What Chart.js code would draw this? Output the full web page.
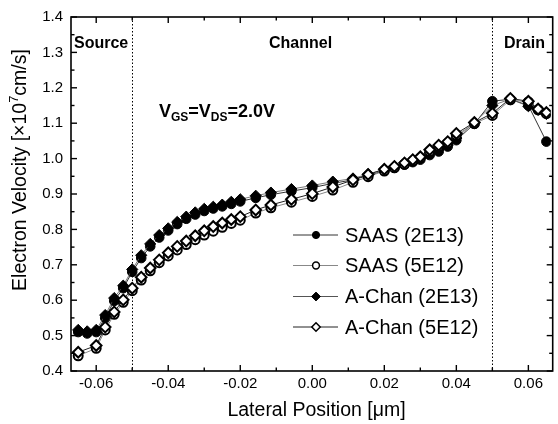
<!DOCTYPE html>
<html>
<head>
<meta charset="utf-8">
<script src="https://cdn.jsdelivr.net/npm/chart.js@4.4.1/dist/chart.umd.min.js"></script>
<style>
  html, body { margin: 0; padding: 0; background: #fff; }
  #wrap { width: 558px; height: 424px; position: relative; }
</style>
</head>
<body>
<div id="wrap"><canvas id="c" width="558" height="424"></canvas></div>
<script>
// ---- data ----
const positions = [-0.065, -0.0625, -0.06, -0.0575, -0.055, -0.0525, -0.05, -0.0475, -0.045, -0.0425,
  -0.04, -0.0375, -0.035, -0.0325, -0.03, -0.0275, -0.025, -0.0225, -0.02, -0.0157,
  -0.0115, -0.0058, 0, 0.0057, 0.0113, 0.0155, 0.02, 0.0228, 0.0256, 0.0279,
  0.03, 0.0326, 0.0351, 0.0376, 0.04, 0.045, 0.05, 0.055, 0.06, 0.0627, 0.065];

const saas2E13 = [0.510, 0.506, 0.510, 0.550, 0.598, 0.634, 0.680, 0.719, 0.752, 0.777,
  0.797, 0.815, 0.830, 0.842, 0.852, 0.859, 0.865, 0.872, 0.879, 0.889,
  0.898, 0.908, 0.918, 0.930, 0.940, 0.952, 0.966, 0.974, 0.983, 0.990,
  0.997, 1.010, 1.020, 1.034, 1.052, 1.098, 1.162, 1.168, 1.150, null, 1.048];

const saas5E12 = [0.443, null, 0.464, 0.516, 0.560, 0.594, 0.627, 0.657, 0.683, 0.706,
  0.725, 0.742, 0.757, 0.771, 0.784, 0.795, 0.806, 0.817, 0.826, 0.846,
  0.861, 0.877, 0.893, 0.911, 0.933, 0.949, 0.965, 0.974, 0.984, 0.993,
  1.002, 1.020, 1.034, 1.044, 1.066, 1.099, 1.122, 1.166, 1.160, 1.138, 1.127];

const achan2E13 = [0.516, 0.512, 0.516, 0.558, 0.606, 0.641, 0.687, 0.727, 0.759, 0.784,
  0.803, 0.821, 0.836, 0.848, 0.858, 0.864, 0.870, 0.878, 0.885, 0.895,
  0.904, 0.914, 0.924, 0.935, 0.944, 0.956, 0.970, 0.978, 0.987, 0.995,
  1.002, 1.016, 1.026, 1.038, 1.058, 1.102, 1.150, 1.168, 1.148, 1.138, 1.126];

const achan5E12 = [0.453, null, 0.472, 0.524, 0.567, 0.601, 0.634, 0.665, 0.691, 0.714,
  0.734, 0.752, 0.767, 0.782, 0.796, 0.808, 0.818, 0.828, 0.836, 0.855,
  0.869, 0.885, 0.901, 0.920, 0.940, 0.955, 0.970, 0.978, 0.988, 0.997,
  1.005, 1.025, 1.038, 1.048, 1.071, 1.102, 1.128, 1.170, 1.162, 1.140, 1.130];

const seriesNames = ['SAAS (2E13)', 'SAAS (5E12)', 'A-Chan (2E13)', 'A-Chan (5E12)'];
const xTicks = [-0.06, -0.04, -0.02, 0.00, 0.02, 0.04, 0.06];
const xMinorTicks = [-0.05, -0.03, -0.01, 0.01, 0.03, 0.05];
const yTicks = [0.4, 0.5, 0.6, 0.7, 0.8, 0.9, 1.0, 1.1, 1.2, 1.3, 1.4];
const yMinorTicks = [0.45, 0.55, 0.65, 0.75, 0.85, 0.95, 1.05, 1.15, 1.25, 1.35];
const regionBounds = [-0.05, 0.05];
const regionLabels = ['Source', 'Channel', 'Drain'];

const FONT = '"Liberation Sans", Arial, Helvetica, sans-serif';

function pts(vals) {
  const out = [];
  positions.forEach((x, i) => { if (vals[i] !== null) out.push({ x: x, y: vals[i] }); });
  return out;
}

const datasets = [
  { label: seriesNames[0], data: pts(saas2E13), borderColor: '#333', backgroundColor: '#000',
    pointStyle: 'circle', pointRadius: 4.8, pointBorderColor: '#000', pointBackgroundColor: '#000',
    pointBorderWidth: 1, borderWidth: 1, order: 3, legendRadius: 3.6 },
  { label: seriesNames[1], data: pts(saas5E12), borderColor: '#888', backgroundColor: '#fff',
    pointStyle: 'circle', pointRadius: 4.5, pointBorderColor: '#000', pointBackgroundColor: '#fff',
    pointBorderWidth: 2, borderWidth: 1, order: 1, legendRadius: 3.4 },
  { label: seriesNames[2], data: pts(achan2E13), borderColor: '#555', backgroundColor: '#000',
    pointStyle: 'rectRot', pointRadius: 5.6, pointBorderColor: '#000', pointBackgroundColor: '#000',
    pointBorderWidth: 1, borderWidth: 0.8, order: 2, legendRadius: 4.4 },
  { label: seriesNames[3], data: pts(achan5E12), borderColor: '#222', backgroundColor: '#fff',
    pointStyle: 'rectRot', pointRadius: 5.3, pointBorderColor: '#000', pointBackgroundColor: '#fff',
    pointBorderWidth: 2, borderWidth: 1, order: 0, legendRadius: 4.2 }
];
datasets.forEach(d => { d.showLine = true; d.fill = false; d.tension = 0; d.pointHoverRadius = d.pointRadius; });

const framePlugin = {
  id: 'frame',
  beforeDatasetsDraw(chart) {
    const { ctx, chartArea: a, scales: { x } } = chart;
    ctx.save();
    ctx.strokeStyle = '#000';
    ctx.lineWidth = 1;
    ctx.setLineDash([1.5, 2]);
    regionBounds.forEach(v => {
      const px = Math.round(x.getPixelForValue(v)) + 0.5;
      ctx.beginPath(); ctx.moveTo(px, a.top); ctx.lineTo(px, a.bottom); ctx.stroke();
    });
    ctx.restore();
  },
  afterDatasetsDraw(chart) {
    const { ctx, chartArea: a, scales: { x, y } } = chart;
    ctx.save();
    // frame
    ctx.strokeStyle = '#000';
    ctx.lineWidth = 1.6;
    ctx.strokeRect(a.left, a.top, a.right - a.left + 2, a.bottom - a.top);
    // ticks (inward)
    ctx.lineWidth = 1.4;
    const tick = (x1, y1, x2, y2) => { ctx.beginPath(); ctx.moveTo(x1, y1); ctx.lineTo(x2, y2); ctx.stroke(); };
    xTicks.forEach(v => { const p = x.getPixelForValue(v); tick(p, a.bottom, p, a.bottom - 6); tick(p, a.top, p, a.top + 6); });
    xMinorTicks.forEach(v => { const p = x.getPixelForValue(v); tick(p, a.bottom, p, a.bottom - 3.5); tick(p, a.top, p, a.top + 3.5); });
    yTicks.forEach(v => { const p = y.getPixelForValue(v); tick(a.left, p, a.left + 6, p); tick(a.right + 2, p, a.right - 4, p); });
    yMinorTicks.forEach(v => { const p = y.getPixelForValue(v); tick(a.left, p, a.left + 3.5, p); tick(a.right + 2, p, a.right - 1.5, p); });

    // region labels
    ctx.fillStyle = '#000';
    ctx.font = 'bold 16px ' + FONT;
    ctx.textBaseline = 'alphabetic';
    ctx.textAlign = 'left';
    ctx.fillText(regionLabels[0], 74, 48);
    ctx.fillText(regionLabels[1], 269, 48);
    ctx.fillText(regionLabels[2], 504, 48);

    // V_GS = V_DS = 2.0V
    let cx = 159;
    const base = 117;
    const parts = [['V', 18, 0], ['GS', 12, 4], ['=V', 18, 0], ['DS', 12, 4], ['=2.0V', 18, 0]];
    parts.forEach(([t, s, dy]) => {
      ctx.font = 'bold ' + s + 'px ' + FONT;
      ctx.fillText(t, cx, base + dy);
      cx += ctx.measureText(t).width;
    });

    // legend
    const lx1 = 293, lx2 = 338, mx = 316, tx = 345;
    const rows = [235, 265.5, 296.5, 327];
    datasets.forEach((d, i) => {
      const ry = rows[i];
      ctx.strokeStyle = d.borderColor;
      ctx.lineWidth = 1;
      ctx.setLineDash([]);
      tick(lx1, ry, lx2, ry);
      ctx.lineWidth = Math.min(d.pointBorderWidth, 1.5);
      ctx.strokeStyle = '#000';
      ctx.fillStyle = d.pointBackgroundColor;
      ctx.beginPath();
      const r = d.legendRadius;
      if (d.pointStyle === 'circle') {
        ctx.arc(mx, ry, r, 0, Math.PI * 2);
      } else {
        ctx.moveTo(mx, ry - r); ctx.lineTo(mx + r, ry); ctx.lineTo(mx, ry + r); ctx.lineTo(mx - r, ry); ctx.closePath();
      }
      ctx.fill(); ctx.stroke();
      ctx.fillStyle = '#000';
      ctx.font = '20px ' + FONT;
      ctx.textBaseline = 'middle';
      ctx.fillText(d.label, tx, ry + 1);
    });

    // x title
    ctx.textBaseline = 'alphabetic';
    ctx.textAlign = 'center';
    ctx.font = '19.5px ' + FONT;
    ctx.fillText('Lateral Position [\u03bcm]', 316.5, 416);

    // y title with superscript
    ctx.translate(26, 170);
    ctx.rotate(-Math.PI / 2);
    const yparts = [['Electron Velocity [\u00d710', 19.5, 0], ['7', 13, -8], ['cm/s]', 19.5, 0]];
    let total = 0;
    yparts.forEach(([t, s]) => { ctx.font = s + 'px ' + FONT; total += ctx.measureText(t).width; });
    ctx.textAlign = 'left';
    let u = -total / 2;
    yparts.forEach(([t, s, dy]) => {
      ctx.font = s + 'px ' + FONT;
      ctx.fillText(t, u, dy);
      u += ctx.measureText(t).width;
    });
    ctx.restore();
  }
};

new Chart(document.getElementById('c'), {
  type: 'scatter',
  data: { datasets: datasets },
  options: {
    responsive: false,
    animation: false,
    devicePixelRatio: 1,
    layout: { padding: { top: 17, right: 1, left: 0, bottom: 0 } },
    plugins: { legend: { display: false }, tooltip: { enabled: false } },
    scales: {
      x: {
        type: 'linear', min: -0.067, max: 0.0662,
        grid: { display: false, drawTicks: false }, border: { display: false },
        afterBuildTicks: s => { s.ticks = xTicks.map(v => ({ value: v })); },
        afterFit: s => { s.height = 53; },
        ticks: { color: '#000', padding: 4, maxRotation: 0, autoSkip: false,
          font: { family: FONT, size: 15 }, callback: v => v.toFixed(2) }
      },
      y: {
        type: 'linear', min: 0.4, max: 1.4,
        grid: { display: false, drawTicks: false }, border: { display: false },
        afterBuildTicks: s => { s.ticks = yTicks.map(v => ({ value: v })); },
        afterFit: s => { s.width = 71; },
        ticks: { color: '#000', padding: 8, autoSkip: false,
          font: { family: FONT, size: 15 }, callback: v => v.toFixed(1) }
      }
    }
  },
  plugins: [framePlugin]
});
</script>
</body>
</html>
